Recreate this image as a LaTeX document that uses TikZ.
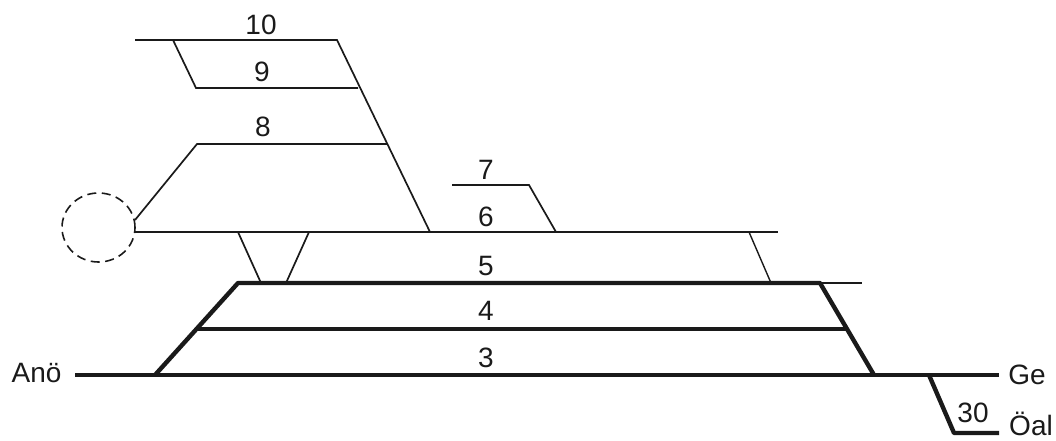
\documentclass[tikz,border=0pt]{standalone}
\usepackage{fontspec}
\setmainfont{Liberation Sans}
\usetikzlibrary{positioning, shapes.geometric}
\definecolor{trackcolor}{HTML}{1A1A1A}

\begin{document}
\begin{tikzpicture}[
        x=1pt, y=-1pt,
        thintrack/.style={line width=1.7pt, trackcolor},
        stubtrack/.style={line width=1.4pt, trackcolor},
        thicktrack/.style={line width=4.4pt, trackcolor},
        tracklabel/.style={font=\fontsize{28}{30}\selectfont, text=trackcolor, inner sep=0pt}
    ]
        \useasboundingbox (0,0) rectangle (1056,440);

        % thin tracks
        \coordinate (ten west) at (135,40);
        \coordinate (ten east) at (337,40);
        \coordinate (ten branch) at (173,40);
        \coordinate (nine west) at (196,88);
        \coordinate (nine east) at (358,88);
        \coordinate (eight west) at (135,220);
        \coordinate (eight bend) at (197,144);
        \coordinate (eight east) at (387,144);
        \coordinate (six west) at (135,232);
        \coordinate (six east) at (778,232);
        \coordinate (six join) at (430,232);
        \coordinate (seven west) at (452,185);
        \coordinate (seven bend) at (529,185);
        \coordinate (seven join) at (556,232);
        \coordinate (five stub) at (862,283);

        \draw[thintrack] (ten west) -- (ten east) -- (six join);
        \draw[thintrack] (ten branch) -- (nine west) -- (nine east);
        \draw[thintrack] (eight west) -- (eight bend) -- (eight east);
        \draw[thintrack] (six west) -- (six east);
        \draw[thintrack] (seven west) -- (seven bend) -- (seven join);

        % links between 6 and 5
        \coordinate (link a top) at (238,232);
        \coordinate (link a foot) at (261,283);
        \coordinate (link b top) at (309,232);
        \coordinate (link b foot) at (286,283);
        \coordinate (link c top) at (749,232);
        \coordinate (link c foot) at (771,283);
        \draw[thintrack] (link a top) -- (link a foot);
        \draw[thintrack] (link b top) -- (link b foot);
        \draw[stubtrack] (link c top) -- (link c foot);

        % thick tracks
        \coordinate (main west) at (75,375);
        \coordinate (main east) at (999,375);
        \coordinate (three west) at (155,375);
        \coordinate (three east) at (874,375);
        \coordinate (five west) at (238,283);
        \coordinate (five east) at (820,283);
        \coordinate (four west) at (197,329);
        \coordinate (four east) at (847,329);
        \coordinate (branch top) at (929,375);
        \coordinate (branch foot) at (954,433);
        \coordinate (branch east) at (999,433);

        \draw[stubtrack] (five east) -- (five stub);
        \draw[thicktrack] (main west) -- (main east);
        \draw[thicktrack, line join=round] (three west) -- (five west) -- (five east) -- (three east);
        \draw[thicktrack] (four west) -- (four east);
        \draw[thicktrack, line join=round] (branch top) -- (branch foot) -- (branch east);

        % the dashed circle
        \node[draw, ellipse, dash pattern=on 9pt off 5.5pt, minimum width=73pt, minimum height=69pt, inner sep=0pt, line width=1.6pt, trackcolor] (turntable) at (98.5,227.5) {};

        % labels
        \node[tracklabel] (label ten) at (261,25) {10};
        \node[tracklabel] (label nine) at (262,72) {9};
        \node[tracklabel] (label eight) at (263,126.5) {8};
        \node[tracklabel] (label seven) at (486,170) {7};
        \node[tracklabel] (label six) at (486,217) {6};
        \node[tracklabel] (label five) at (486,266) {5};
        \node[tracklabel] (label four) at (486,311) {4};
        \node[tracklabel] (label three) at (486,358) {3};
        \node[tracklabel] (label thirty) at (973,413) {30};
        \node[tracklabel] (label ano) at (36.5,373) {Anö};
        \node[tracklabel] (label ge) at (1027,375) {Ge};
        \node[tracklabel] (label oal) at (1031,424) {Öal};
    \end{tikzpicture}
\end{document}
